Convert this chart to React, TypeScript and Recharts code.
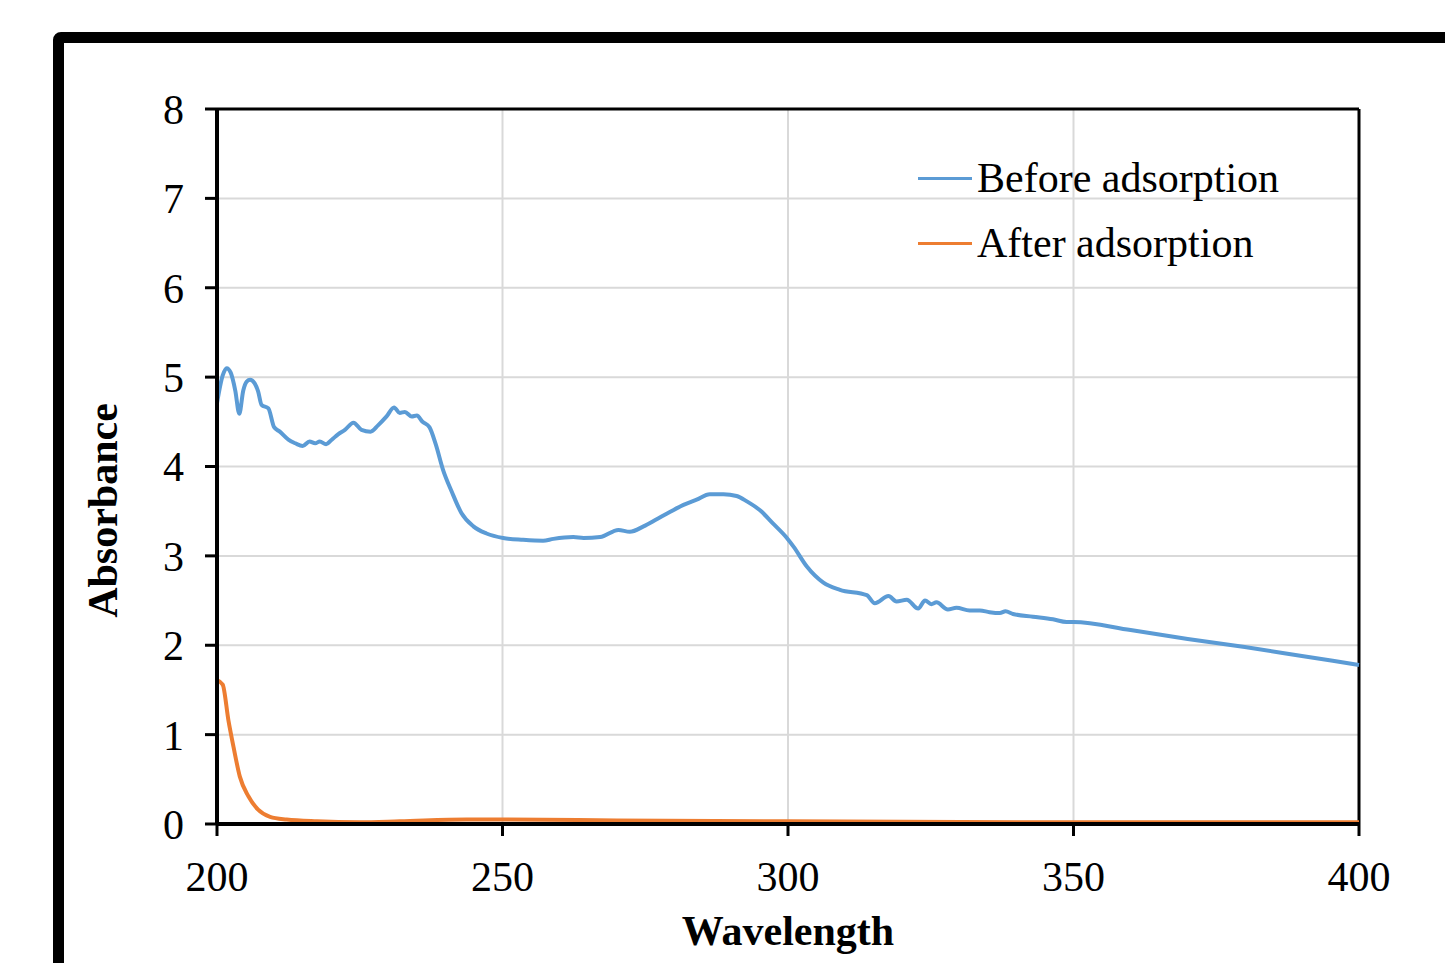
import React from 'react';
import { LineChart, Line, XAxis, YAxis, CartesianGrid, Legend, ReferenceLine } from 'recharts';

// wavelengths (nm) and absorbance
const beforeWl = [
  200, 201, 201.7, 202.4, 203.2, 203.9, 204.6, 205.2, 205.8, 206.6, 207.2, 207.8, 209, 210, 211, 212.5, 213.7,
  215, 216.2, 217.2, 218, 219.1, 220.1, 221.2, 222.4, 223.9, 225.3, 226.9, 228.2, 229.7, 231, 232, 232.9, 234.1,
  235, 236, 237.2, 238.3, 239.6, 241.1, 242.8, 244.9, 247.2, 250.1, 253.6, 257.1, 258.9, 262.4, 264.2, 267.1,
  270.3, 272.3, 274.7, 277, 279.3, 281.7, 284, 286.3, 288.7, 291, 292.8, 295.1, 297.4, 299.8, 301, 303.3, 306.2,
  309.1, 313.8, 315.2, 317.6, 319, 320.8, 322.8, 324, 325.1, 326, 328, 329.5, 331.8, 333.6, 335.3, 337.1, 338.1,
  339.4, 342.9, 346.4, 348.8, 350, 360, 370, 380, 390, 400,
];
const beforeAbs = [
  4.71, 5.02, 5.1, 5.05, 4.85, 4.59, 4.85, 4.95, 4.97, 4.93, 4.84, 4.69, 4.65, 4.44, 4.39, 4.3, 4.26,
  4.23, 4.28, 4.26, 4.28, 4.25, 4.3, 4.36, 4.41, 4.49, 4.41, 4.39, 4.46, 4.56, 4.66, 4.6, 4.61, 4.56,
  4.57, 4.5, 4.44, 4.25, 3.96, 3.72, 3.48, 3.33, 3.25, 3.2, 3.18, 3.17, 3.19, 3.21, 3.2, 3.21,
  3.29, 3.27, 3.33, 3.41, 3.49, 3.57, 3.63, 3.69, 3.69, 3.67, 3.61, 3.51, 3.36, 3.2, 3.1, 2.88, 2.7,
  2.62, 2.56, 2.47, 2.55, 2.49, 2.51, 2.41, 2.5, 2.46, 2.48, 2.4, 2.42, 2.39, 2.39, 2.37, 2.36, 2.38,
  2.35, 2.32, 2.29, 2.26, 2.26, 2.17, 2.07, 1.98, 1.88, 1.78,
];

const afterWl = [200, 201, 202, 202.9, 204, 205.5, 207.2, 209.3, 212.2, 217.5, 225, 232, 243.7, 250, 270, 300, 350, 400];
const afterAbs = [1.61, 1.56, 1.16, 0.86, 0.53, 0.31, 0.16, 0.08, 0.05, 0.03, 0.02, 0.03, 0.05, 0.05, 0.04, 0.03, 0.02, 0.02];

const seriesNames = ['Before adsorption', 'After adsorption'];
const xTicks = [200, 250, 300, 350, 400];
const yTicks = [0, 1, 2, 3, 4, 5, 6, 7, 8];

const beforeData = beforeWl.map((wl, i) => ({ wl, abs: beforeAbs[i] }));
const afterData = afterWl.map((wl, i) => ({ wl, abs: afterAbs[i] }));

const FONT = '"Liberation Serif", "Times New Roman", serif';
const FS = 42;
const BLUE = '#5B9BD5';
const ORANGE = '#ED7D31';

const renderLegend = (props: any) => {
  const items = [...(props.payload || [])].sort(
    (a: any, b: any) => seriesNames.indexOf(a.value) - seriesNames.indexOf(b.value)
  );
  return (
    <div style={{ fontFamily: FONT, fontSize: FS, color: '#000' }}>
      {items.map((entry: any) => (
        <div key={entry.value} style={{ display: 'flex', alignItems: 'center', height: 65 }}>
          <div style={{ width: 54, height: 3, backgroundColor: entry.color, marginRight: 5 }} />
          <span style={{ lineHeight: '65px', whiteSpace: 'nowrap' }}>{entry.value}</span>
        </div>
      ))}
    </div>
  );
};

const XTitle = (props: any) => {
  const { viewBox } = props;
  return (
    <text x={viewBox.x + viewBox.width / 2} y={viewBox.y + 121} textAnchor="middle"
      fontFamily={FONT} fontSize={FS} fontWeight="bold" fill="#000">
      Wavelength
    </text>
  );
};

const YTitle = (props: any) => {
  const { viewBox } = props;
  const cx = 103;
  const cy = viewBox.y + viewBox.height / 2 + 44;
  return (
    <text x={cx} y={cy} textAnchor="middle" dominantBaseline="central" transform={`rotate(-90 ${cx} ${cy})`}
      fontFamily={FONT} fontSize={FS} fontWeight="bold" fill="#000">
      Absorbance
    </text>
  );
};

const App: React.FC = () => {
  return (
    <div style={{ position: 'absolute', left: 0, top: 0, width: 1445, height: 963, overflow: 'hidden', background: '#fff' }}>
      {/* outer frame, runs off the right and bottom edges */}
      <div style={{ position: 'absolute', left: 53, top: 32, width: 1500, height: 1000, border: '11px solid #000', borderRadius: 8 }} />
      <div style={{ position: 'absolute', left: 0, top: 0 }}>
        <LineChart width={1445} height={963} margin={{ top: 109, right: 86, bottom: 0, left: 0 }}>
          <CartesianGrid stroke="#D9D9D9" strokeWidth={2} />
          <XAxis
            dataKey="wl"
            type="number"
            domain={[200, 400]}
            ticks={xTicks}
            height={139}
            allowDuplicatedCategory={false}
            axisLine={{ stroke: '#000', strokeWidth: 4 }}
            tickLine={{ stroke: '#000', strokeWidth: 3 }}
            tickSize={12}
            tickMargin={25}
            tick={{ fontFamily: FONT, fontSize: FS, fill: '#000' }}
            label={<XTitle />}
          />
          <YAxis
            type="number"
            domain={[0, 8]}
            ticks={yTicks}
            width={217}
            axisLine={{ stroke: '#000', strokeWidth: 4 }}
            tickLine={{ stroke: '#000', strokeWidth: 3 }}
            tickSize={12}
            tickMargin={21}
            tick={{ fontFamily: FONT, fontSize: FS, fill: '#000' }}
            label={<YTitle />}
          />
          <ReferenceLine y={8} stroke="#000" strokeWidth={3} />
          <ReferenceLine x={400} stroke="#000" strokeWidth={3} />
          <Legend
            layout="vertical"
            align="center"
            verticalAlign="middle"
            content={renderLegend}
            wrapperStyle={{ left: 918, top: 146, width: 420 }}
          />
          <Line data={beforeData} dataKey="abs" name={seriesNames[0]} type="monotone" stroke={BLUE}
            strokeWidth={4} dot={false} activeDot={false} isAnimationActive={false} />
          <Line data={afterData} dataKey="abs" name={seriesNames[1]} type="monotone" stroke={ORANGE}
            strokeWidth={4} dot={false} activeDot={false} isAnimationActive={false} />
        </LineChart>
      </div>
    </div>
  );
};

export default App;
